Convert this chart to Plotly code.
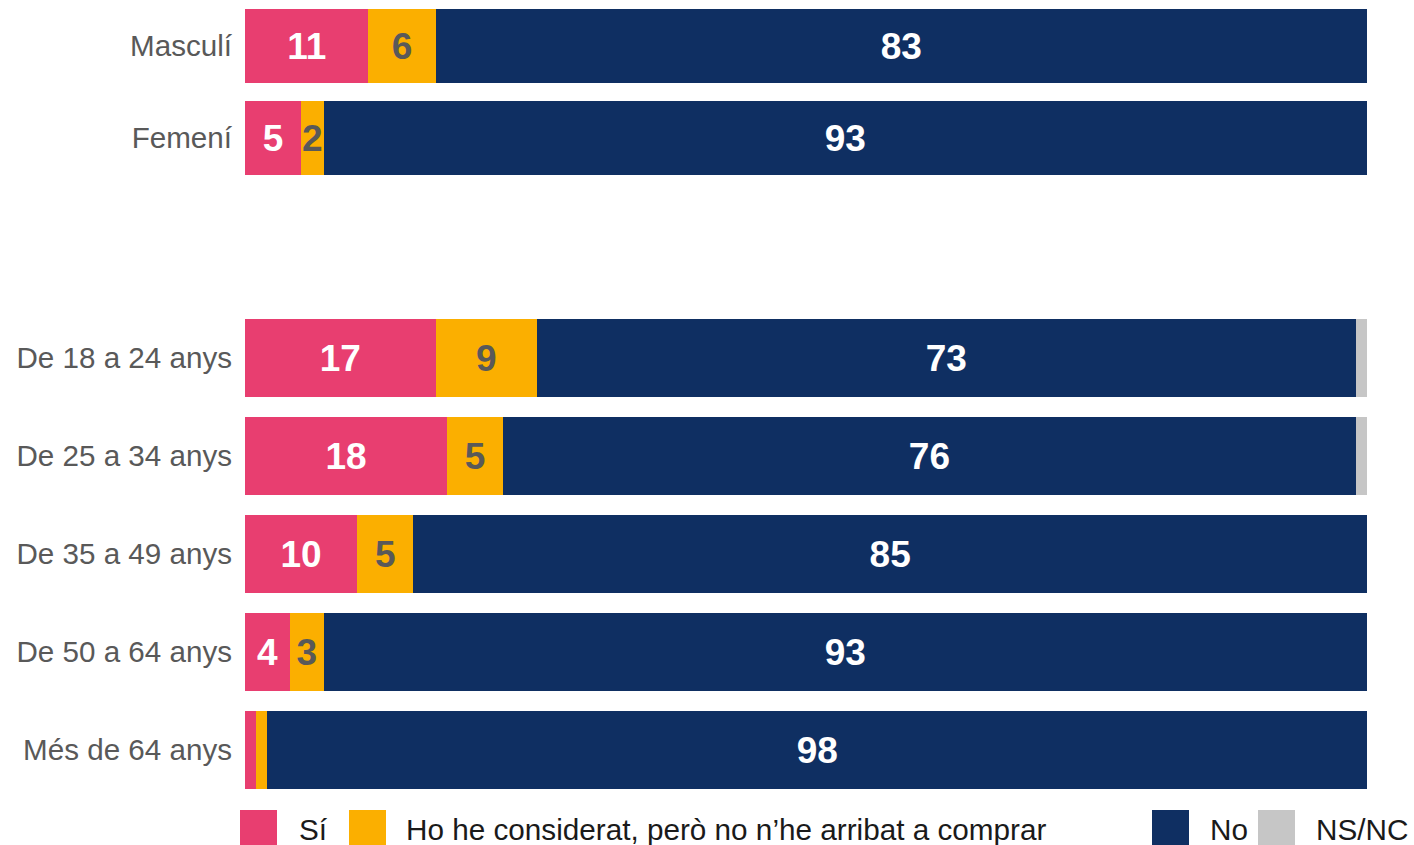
import plotly.graph_objects as go
from plotly.subplots import make_subplots

# Survey shares (%), by sex and by age group
sex_groups = ["Masculí", "Femení"]
age_groups = ["De 18 a 24 anys", "De 25 a 34 anys", "De 35 a 49 anys",
              "De 50 a 64 anys", "Més de 64 anys"]

series_names = ["Sí", "Ho he considerat, però no n’he arribat a comprar", "No", "NS/NC"]
series_colors = ["#E83E70", "#FBAF00", "#0F2F62", "#C6C6C6"]
label_colors = ["#FFFFFF", "#595959", "#FFFFFF", "#595959"]

sex_si = [11, 5]
sex_considerat = [6, 2]
sex_no = [83, 93]
sex_nsnc = [0, 0]

age_si = [17, 18, 10, 4, 1]
age_considerat = [9, 5, 5, 3, 1]
age_no = [73, 76, 85, 93, 98]
age_nsnc = [1, 1, 0, 0, 0]

FONT = "Liberation Sans, Arial, sans-serif"
W, H = 1414, 845
M_L, M_R, M_T, M_B = 245, 47, 0, 46
plot_h = H - M_T - M_B

fig = make_subplots(rows=2, cols=1, shared_xaxes=False, vertical_spacing=0.0)

def add_block(row, cats, columns):
    for name, color, tcol, vals in zip(series_names, series_colors, label_colors, columns):
        fig.add_trace(go.Bar(
            y=cats, x=vals, orientation="h", name=name,
            marker=dict(color=color, line=dict(width=0)),
            text=[str(v) if v >= 2 else "" for v in vals],
            textposition="inside", insidetextanchor="middle",
            textangle=0, constraintext="none",
            textfont=dict(family=FONT, size=37, color=tcol, weight="bold"),
            showlegend=False, hoverinfo="skip",
        ), row=row, col=1)

add_block(1, sex_groups, [sex_si, sex_considerat, sex_no, sex_nsnc])
add_block(2, age_groups, [age_si, age_considerat, age_no, age_nsnc])

# Domains in pixel terms: sex block 0..184 px from top, age block 309..799 px
sex_dom = [1 - 184 / plot_h, 1]
age_dom = [0, 490 / plot_h]

axis_font = dict(family=FONT, size=29.6, color="#595959")
fig.update_layout(
    barmode="stack", bargap=0.2,
    width=W, height=H,
    margin=dict(l=M_L, r=M_R, t=M_T, b=M_B),
    paper_bgcolor="white", plot_bgcolor="white",
    showlegend=False,
    xaxis=dict(range=[0, 100], visible=False, fixedrange=True),
    xaxis2=dict(range=[0, 100], visible=False, fixedrange=True),
    yaxis=dict(domain=sex_dom, categoryorder="array", categoryarray=sex_groups,
               autorange="reversed", showgrid=False, zeroline=False, showline=False,
               ticks="", tickfont=axis_font, ticklabelstandoff=12),
    yaxis2=dict(domain=age_dom, categoryorder="array", categoryarray=age_groups,
                autorange="reversed", showgrid=False, zeroline=False, showline=False,
                ticks="", tickfont=axis_font, ticklabelstandoff=12),
)

# Legend row drawn below the bars: coloured squares with their labels
legend_sq_x = [240, 349, 1152, 1258]
legend_txt_x = [297, 404, 1208, 1314]
sq_size = 37
sq_top = 810

def px_to_paper_x(px):
    return (px - M_L) / (W - M_L - M_R)

def px_to_paper_y(py):
    return 1 - (py - M_T) / plot_h

for name, color, sx, tx in zip(series_names, series_colors, legend_sq_x, legend_txt_x):
    fig.add_shape(type="rect", xref="paper", yref="paper",
                  x0=px_to_paper_x(sx), x1=px_to_paper_x(sx + sq_size),
                  y0=px_to_paper_y(sq_top + sq_size), y1=px_to_paper_y(sq_top),
                  fillcolor=color, line=dict(width=0), layer="above")
    fig.add_annotation(xref="paper", yref="paper",
                       x=px_to_paper_x(tx), y=px_to_paper_y(829),
                       xanchor="left", yanchor="middle", showarrow=False,
                       text=name,
                       font=dict(family=FONT, size=29.7, color="#1A1A1A"))

fig.write_html("out.html", config={"displayModeBar": False})
